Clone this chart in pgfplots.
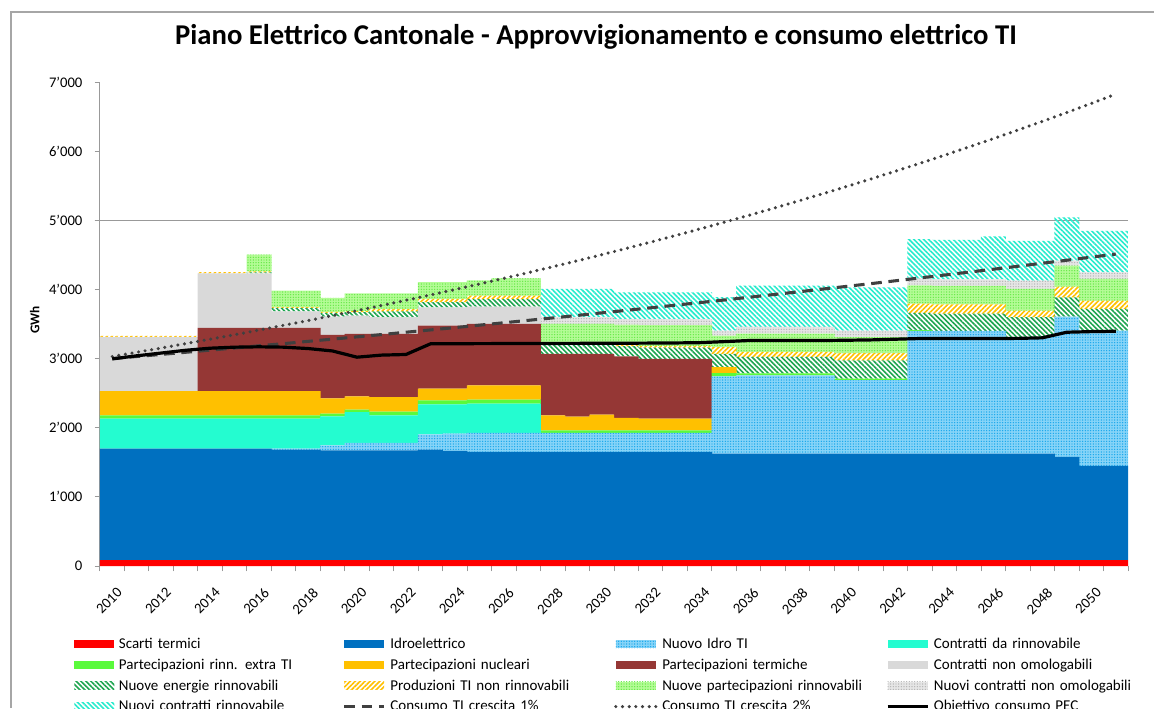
\documentclass[border=0pt]{standalone}
\usepackage{fontspec}
\setmainfont{Carlito}
\usepackage{pgfplots}
\usepackage{pgfplotstable}
\usetikzlibrary{patterns.meta}
\pgfplotsset{compat=1.18}

\definecolor{cScarti}{RGB}{255,0,0}
\definecolor{cIdro}{RGB}{0,112,192}
\definecolor{cNIdroBase}{RGB}{135,212,248}
\definecolor{cNIdroDot}{RGB}{20,165,235}
\definecolor{cCRin}{RGB}{36,252,208}
\definecolor{cPRin}{RGB}{90,250,60}
\definecolor{cNuc}{RGB}{255,192,0}
\definecolor{cTerm}{RGB}{149,55,53}
\definecolor{cCNO}{RGB}{217,217,217}
\definecolor{cNER}{RGB}{30,165,80}
\definecolor{cNPRBase}{RGB}{180,252,150}
\definecolor{cNPRDot}{RGB}{100,232,70}
\definecolor{cNCNOBase}{RGB}{230,230,230}
\definecolor{cNCNODot}{RGB}{180,180,180}
\definecolor{cNCR}{RGB}{40,235,205}
\definecolor{cLine}{RGB}{64,64,64}

\pgfplotsset{
  linelegend/.style={legend image code/.code={\draw[##1] (0pt,0pt) -- (30pt,0pt);}},
}

% year, then the 13 stacked sources, then the three consumption curves
\pgfplotstableread{
year st idro nidro crin prin pnuc pterm cno ner pnr npr ncno ncr c1 c2 pec
2010 85 1613 0 433 48 351 0 780 0 20 0 0 0 3000 3030 2995
2011 85 1613 0 433 48 351 0 780 0 20 0 0 0 3030 3091 3040
2012 85 1613 0 433 48 351 0 780 0 20 0 0 0 3060 3152 3080
2013 85 1613 0 433 48 351 0 780 0 20 0 0 0 3091 3216 3120
2014 85 1613 0 433 48 351 914 788 0 20 0 0 0 3122 3280 3150
2015 85 1613 0 433 48 351 914 788 0 20 0 0 0 3153 3345 3165
2016 85 1613 0 433 48 351 914 788 15 15 240 0 0 3185 3412 3170
2017 85 1599 14 433 48 351 914 240 50 10 239 0 0 3216 3481 3165
2018 85 1599 14 433 48 351 914 240 50 10 239 0 0 3249 3550 3145
2019 85 1589 71 419 40 221 919 264 53 15 202 0 0 3281 3621 3110
2020 85 1589 106 447 34 192 905 264 50 15 257 0 0 3314 3694 3020
2021 85 1589 106 399 55 209 915 240 86 30 230 0 0 3347 3767 3050
2022 85 1589 106 399 55 209 915 240 86 30 230 0 0 3381 3843 3059
2023 85 1599 221 433 57 169 914 264 73 48 242 0 0 3414 3920 3213
2024 85 1579 249 425 57 169 914 264 73 48 242 0 0 3448 3998 3215
2025 85 1565 274 424 57 207 890 250 107 52 219 0 0 3483 4078 3216
2026 85 1565 274 424 57 207 890 250 107 52 249 0 0 3518 4160 3217
2027 85 1565 274 424 57 207 890 250 107 52 249 0 0 3553 4243 3218
2028 85 1565 274 0 38 217 890 0 134 20 279 96 409 3588 4328 3219
2029 85 1565 274 0 38 200 907 0 134 20 279 96 409 3624 4414 3220
2030 85 1565 274 0 38 228 879 0 134 20 279 96 409 3661 4502 3221
2031 85 1565 274 0 38 180 888 0 150 20 290 80 389 3697 4593 3222
2032 85 1565 274 0 38 169 866 0 163 25 300 85 389 3734 4684 3224
2033 85 1565 274 0 38 169 866 0 163 25 300 85 389 3772 4778 3226
2034 85 1565 274 0 38 169 866 0 163 25 300 85 389 3809 4874 3230
2035 85 1541 1116 0 48 87 0 0 192 96 168 70 485 3847 4971 3245
2036 85 1541 1130 0 29 0 0 0 240 72 265 96 597 3886 5071 3261
2037 85 1541 1130 0 29 0 0 0 240 72 265 96 597 3925 5172 3261
2038 85 1541 1130 0 29 0 0 0 240 72 265 96 597 3964 5275 3261
2039 85 1541 1130 0 29 0 0 0 240 72 265 96 597 4004 5381 3261
2040 85 1541 1064 0 20 0 0 0 263 105 232 95 626 4044 5488 3265
2041 85 1541 1064 0 20 0 0 0 263 105 232 95 626 4084 5598 3270
2042 85 1541 1064 0 20 0 0 0 263 105 232 95 626 4125 5710 3280
2043 85 1541 1774 0 10 0 0 0 250 135 265 96 572 4166 5824 3290
2044 85 1541 1774 0 0 0 0 0 250 135 265 96 572 4208 5941 3290
2045 85 1541 1774 0 0 0 0 0 250 135 265 96 572 4250 6060 3290
2046 85 1541 1774 0 0 0 0 0 250 135 265 96 620 4292 6181 3290
2047 85 1541 1683 0 0 0 0 0 289 96 313 120 577 4335 6305 3292
2048 85 1541 1683 0 0 0 0 0 289 96 313 120 577 4379 6431 3300
2049 85 1493 2029 0 0 0 0 0 279 154 303 72 626 4422 6559 3381
2050 85 1363 1957 0 0 0 0 0 313 120 313 96 601 4467 6690 3390
2051 85 1363 1957 0 0 0 0 0 313 120 313 96 601 4511 6824 3395
}\data

\begin{document}
\begin{tikzpicture}
\useasboundingbox (0,0) rectangle (865.5pt,531pt);
\draw[gray!70, line width=1.5pt] (8.25pt,0) -- (8.25pt,522pt) -- (866pt,522pt);
\node[font=\bfseries\fontsize{21.5}{25}\selectfont] at (447pt,503pt)
  {Piano Elettrico Cantonale - Approvvigionamento e consumo elettrico TI};

\begin{axis}[
    at={(75pt,106.5pt)}, anchor=south west,
    scale only axis, width=771pt, height=363pt,
    ybar stacked, bar width=1.02,
    xmin=2009.5, xmax=2051.5, ymin=0, ymax=7000,
    axis lines*=left,
    axis line style={gray!80, line width=0.75pt},
    x axis line style={draw=none},
    tick align=outside,
    xtick={2010,2012,...,2050},
    xticklabels={2010,2012,2014,2016,2018,2020,2022,2024,2026,2028,2030,2032,2034,2036,2038,2040,2042,2044,2046,2048,2050},
    major x tick style={draw=none},
    minor xtick={2009.5,2010.5,...,2051.5},
    minor x tick style={gray!80, line width=0.75pt},
    minor tick length=4pt,
    ytick={0,1000,...,7000},
    yticklabels={0,1'000,2'000,3'000,4'000,5'000,6'000,7'000},
    major y tick style={gray!80, line width=0.75pt},
    major tick length=4pt,
    extra y ticks={5000}, extra y tick labels={},
    extra y tick style={grid=major, major grid style={gray!80, line width=0.9pt}},
    tick label style={font=\fontsize{11}{13}\selectfont},
    yticklabel style={inner sep=1pt, xshift=-8pt},
    xticklabel style={xshift=3pt, yshift=-10pt, rotate=45, anchor=north east, inner sep=1pt},
    ylabel={GWh},
    every axis y label/.style={at={(axis description cs:-0.0636,0.508)}, rotate=90, anchor=center,
      font=\bfseries\fontsize{10}{12}\selectfont},
    legend columns=4,
    legend image code/.code={\path[#1] (0pt,-3pt) rectangle (30pt,3pt);},
    legend style={at={(axis description cs:-0.0253,-0.144)}, anchor=north west, draw=none,
      inner sep=0pt, column sep=2pt, row sep=3.3pt,
      font=\fontsize{11.25}{13.5}\selectfont,
      nodes={inner sep=1.5pt, text width=164.3pt, align=left}},
  ]
  \addplot[fill=cScarti, draw=none] table[x=year, y=st] {\data};
  \addplot[fill=cIdro, draw=none] table[x=year, y=idro] {\data};
  \addplot[fill=cNIdroBase, draw=none,
    postaction={pattern={Dots[distance=2pt, radius=0.55pt]}, pattern color=cNIdroDot}]
    table[x=year, y=nidro] {\data};
  \addplot[fill=cCRin, draw=none] table[x=year, y=crin] {\data};
  \addplot[fill=cPRin, draw=none] table[x=year, y=prin] {\data};
  \addplot[fill=cNuc, draw=none] table[x=year, y=pnuc] {\data};
  \addplot[fill=cTerm, draw=none] table[x=year, y=pterm] {\data};
  \addplot[fill=cCNO, draw=none] table[x=year, y=cno] {\data};
  \addplot[draw=none, pattern={Lines[angle=-45, distance=2.6pt, line width=1.2pt]}, pattern color=cNER]
    table[x=year, y=ner] {\data};
  \addplot[draw=none, pattern={Lines[angle=45, distance=2.6pt, line width=1.2pt]}, pattern color=cNuc]
    table[x=year, y=pnr] {\data};
  \addplot[fill=cNPRBase, draw=none,
    postaction={pattern={Dots[distance=2pt, radius=0.55pt]}, pattern color=cNPRDot}]
    table[x=year, y=npr] {\data};
  \addplot[fill=cNCNOBase, draw=none,
    postaction={pattern={Dots[distance=2pt, radius=0.55pt]}, pattern color=cNCNODot}]
    table[x=year, y=ncno] {\data};
  \addplot[draw=none, pattern={Lines[angle=-45, distance=2.6pt, line width=1.2pt]}, pattern color=cNCR]
    table[x=year, y=ncr] {\data};
  \addlegendimage{linelegend, cLine, line width=2.3pt, dash pattern=on 8pt off 5pt}
  \addlegendimage{linelegend, cLine, line width=2.6pt, line cap=round, dash pattern=on 0pt off 5pt}
  \addlegendimage{linelegend, black, line width=2.4pt}
  \legend{Scarti termici, Idroelettrico, Nuovo Idro TI, Contratti da rinnovabile,
    Partecipazioni rinn. extra TI, Partecipazioni nucleari, Partecipazioni termiche, Contratti non omologabili,
    Nuove energie rinnovabili, Produzioni TI non rinnovabili, Nuove partecipazioni rinnovabili, Nuovi contratti non omologabili,
    Nuovi contratti rinnovabile, Consumo TI crescita 1\%, Consumo TI crescita 2\%, Obiettivo consumo PEC}
\end{axis}

\begin{axis}[
    at={(75pt,106.5pt)}, anchor=south west,
    scale only axis, width=771pt, height=363pt,
    xmin=2009.5, xmax=2051.5, ymin=0, ymax=7000,
    hide axis,
  ]
  \addplot[cLine, line width=2.3pt, dash pattern=on 8pt off 5pt] table[x=year, y=c1] {\data};
  \addplot[cLine, line width=2.6pt, line cap=round, dash pattern=on 0pt off 5pt] table[x=year, y=c2] {\data};
  \addplot[black, line width=2.4pt] table[x=year, y=pec] {\data};
\end{axis}
\end{tikzpicture}
\end{document}
